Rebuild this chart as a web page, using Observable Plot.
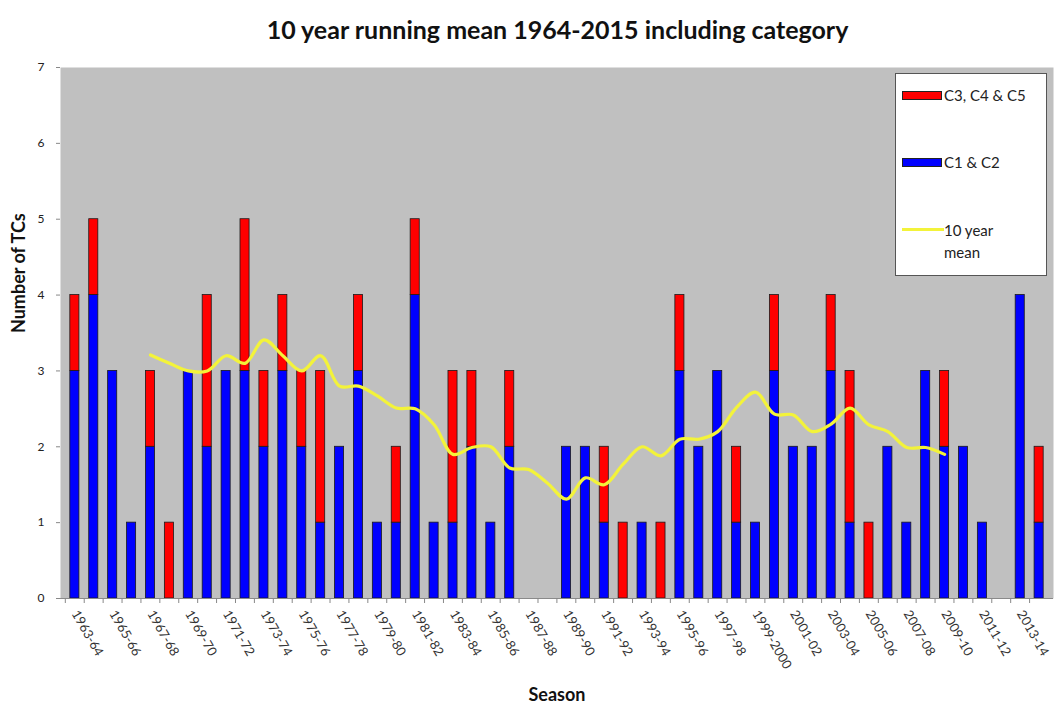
<!DOCTYPE html>
<html>
<head>
<meta charset="utf-8">
<script src="https://cdn.jsdelivr.net/npm/d3@7"></script>
<script src="https://cdn.jsdelivr.net/npm/@observablehq/plot@0.6"></script>
<style>
  body { margin: 0; background: white; font-family: Lato, "Open Sans", sans-serif; }
  #wrap { position: relative; width: 1055px; height: 711px; }
  #title { height: 55px; box-sizing: border-box; padding-top: 14px; padding-left: 60px; text-align: center; font-weight: bold; font-size: 25px; line-height: 30px; color: #111; }
  #legend { position: absolute; left: 895px; top: 73px; width: 152px; height: 203px; background: white; border: 1.5px solid #555; box-sizing: border-box; font-size: 15px; color: #222; }
  .sw { position: absolute; left: 6px; width: 40px; height: 9px; border: 1px solid #222; box-sizing: border-box; }
  .lt { position: absolute; left: 48px; line-height: 22px; }
</style>
</head>
<body>
<div id="wrap">
  <div id="title">10 year running mean 1964-2015 including category</div>
  <div id="chart"></div>
  <div id="legend">
    <div class="sw" style="top:17px;background:#ff0000"></div>
    <div class="lt" style="top:10px">C3, C4 &amp; C5</div>
    <div class="sw" style="top:84px;background:#0000ff"></div>
    <div class="lt" style="top:77px">C1 &amp; C2</div>
    <div style="position:absolute;left:6px;top:154px;width:42px;height:3px;background:#f3f33a"></div>
    <div class="lt" style="top:145px">10 year<br>mean</div>
  </div>
</div>
<script>
const seasons = ["1963-64","1964-65","1965-66","1966-67","1967-68","1968-69","1969-70","1970-71","1971-72","1972-73",
  "1973-74","1974-75","1975-76","1976-77","1977-78","1978-79","1979-80","1980-81","1981-82","1982-83",
  "1983-84","1984-85","1985-86","1986-87","1987-88","1988-89","1989-90","1990-91","1991-92","1992-93",
  "1993-94","1994-95","1995-96","1996-97","1997-98","1998-99","1999-2000","2000-01","2001-02","2002-03",
  "2003-04","2004-05","2005-06","2006-07","2007-08","2008-09","2009-10","2010-11","2011-12","2012-13",
  "2013-14","2014-15"];
const c12 = [3,4,3,1,2,0,3,2,3,3, 2,3,2,1,2,3,1,1,4,1, 1,2,1,2,0,0,2,2,1,0, 1,0,3,2,3,1,1,3,2,2, 3,1,0,2,1,3,2,2,1,0, 4,1];
const c345 = [1,1,0,0,1,1,0,2,0,2, 1,1,1,2,0,1,0,1,1,0, 2,1,0,1,0,0,0,0,1,1, 0,1,1,0,0,1,0,1,0,0, 1,2,1,0,0,0,1,0,0,0, 0,1];
const mean10 = [null,null,null,null,3.21,3.1,3.0,3.0,3.2,3.1, 3.41,3.2,3.0,3.2,2.8,2.8,2.67,2.51,2.5,2.29,
  1.9,1.99,2.0,1.72,1.7,1.52,1.31,1.59,1.5,1.77, 2.0,1.88,2.1,2.1,2.2,2.52,2.72,2.43,2.42,2.2,
  2.3,2.51,2.29,2.2,1.99,1.99,1.9,null,null,null, null,null];
const yTicks = [0,1,2,3,4,5,6,7];
const catLow = "C1 & C2", catHigh = "C3, C4 & C5";

const table = seasons.flatMap((s, i) => [
  {season: s, cat: catLow, n: c12[i]},
  {season: s, cat: catHigh, n: c345[i]}
]);
const meanData = seasons.map((s, i) => ({season: s, v: mean10[i]})).filter(d => d.v != null);
const labelTicks = seasons.filter((d, i) => i % 2 === 0);
const step = (1055 - 60 - 2) / seasons.length;

const chart = Plot.plot({
  width: 1055, height: 656,
  marginLeft: 60, marginRight: 2, marginTop: 12, marginBottom: 113,
  style: {fontFamily: "Lato, 'Open Sans', sans-serif", fontSize: "12px", background: "white", color: "#333"},
  x: {domain: seasons, padding: 0.52, axis: null},
  y: {domain: [0, 7], axis: null},
  color: {domain: [catLow, catHigh], range: ["#0000ff", "#ff0000"]},
  marks: [
    Plot.frame({fill: "#c0c0c0", stroke: null}),
    Plot.barY(table, {x: "season", y: "n", fill: "cat", stroke: "#1a1a1a", strokeWidth: 0.8, filter: d => d.n > 0}),
    Plot.lineY(meanData, {x: "season", y: "v", stroke: "#f3f33a", strokeWidth: 3.2, curve: "catmull-rom"}),
    Plot.ruleY([0], {stroke: "#8a8a8a"}),
    Plot.axisY({ticks: yTicks, tickFormat: "d", tickSize: 4, tickPadding: 12, label: null, stroke: "#888", fill: "#222", fontSize: 12}),
    Plot.axisX({ticks: seasons, tickFormat: () => "", tickSize: 5, dx: -step / 2, stroke: "#888", label: null}),
    Plot.axisX({ticks: labelTicks, tickSize: 0, tickPadding: 13, tickRotate: 60, label: null, fill: "#333", fontSize: 13}),
    Plot.text(["Number of TCs"], {text: d => d, frameAnchor: "left", dx: -41, rotate: -90, fontWeight: "bold", fontSize: 18, fill: "#111"}),
    Plot.text(["Season"], {text: d => d, frameAnchor: "bottom", dy: 102, fontWeight: "bold", fontSize: 18, fill: "#111"})
  ]
});
document.getElementById("chart").appendChild(chart);
</script>
</body>
</html>
